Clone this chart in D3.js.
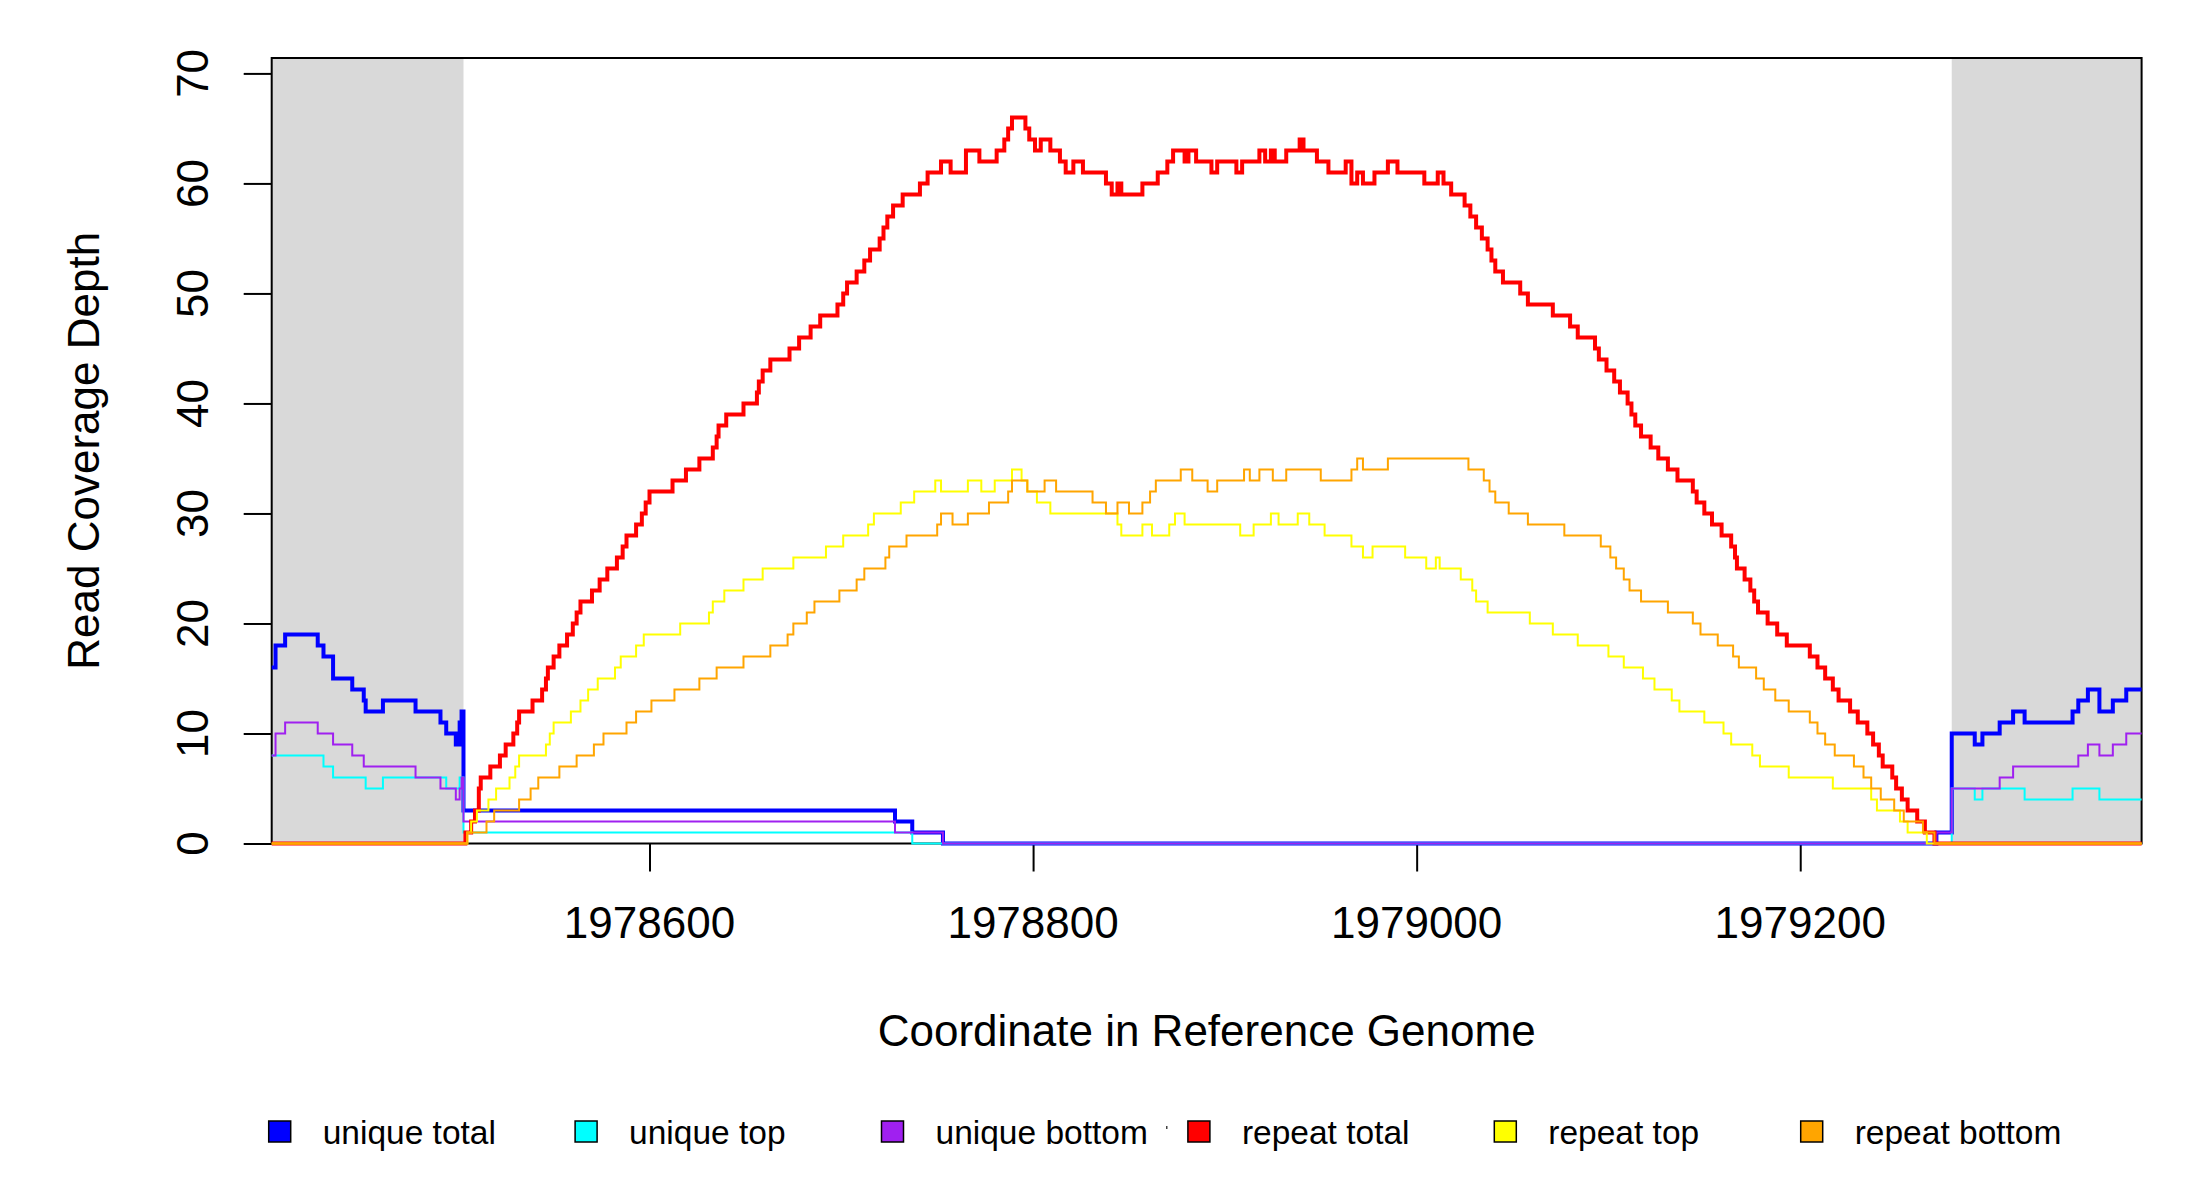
<!DOCTYPE html>
<html>
<head>
<meta charset="utf-8">
<script src="https://cdn.jsdelivr.net/npm/d3@7"></script>
<style>
  body { margin: 0; background: #fff; }
  text { font-family: "Liberation Sans", Arial, sans-serif; fill: #000; }
</style>
</head>
<body>
<svg id="chart" width="2200" height="1200"></svg>
<script>
// genome window and the two flanking (grey) regions
const xDomain = [1978403, 1979378];
const flanks = [[1978403, 1978503], [1979279, 1979378]];
const yMax = 71.4;
const xTicks = [1978600, 1978800, 1979000, 1979200];
const yTicks = [0, 10, 20, 30, 40, 50, 60, 70];

// [coordinate, depth] step points
const uniqueTotal = [[1978403,16],[1978405,18],[1978410,19],[1978427,18],[1978430,17],[1978435,15],[1978445,14],[1978451,13],[1978452,12],[1978461,13],[1978478,12],[1978491,11],[1978494,10],[1978499,9],[1978501,11],[1978502,12],[1978503,3],[1978728,2],[1978737,1],[1978753,0],[1979271,1],[1979279,10],[1979291,9],[1979295,10],[1979304,11],[1979311,12],[1979317,11],[1979342,12],[1979345,13],[1979350,14],[1979356,12],[1979363,13],[1979370,14],[1979378,14]];
const uniqueTop = [[1978403,8],[1978430,7],[1978435,6],[1978452,5],[1978461,6],[1978494,5],[1978501,6],[1978503,1],[1978737,0],[1979279,5],[1979291,4],[1979295,5],[1979317,4],[1979342,5],[1979356,4],[1979378,4]];
const uniqueBottom = [[1978403,8],[1978405,10],[1978410,11],[1978427,10],[1978435,9],[1978445,8],[1978451,7],[1978478,6],[1978491,5],[1978499,4],[1978501,5],[1978502,6],[1978503,2],[1978728,1],[1978753,0],[1979271,1],[1979279,5],[1979304,6],[1979311,7],[1979345,8],[1979350,9],[1979356,8],[1979363,9],[1979370,10],[1979378,10]];

const repeatTotal = [[1978403,0],[1978504,1],[1978507,2],[1978509,3],[1978511,5],[1978512,6],[1978517,7],[1978522,8],[1978525,9],[1978529,10],[1978531,11],[1978532,12],[1978539,13],[1978544,14],[1978546,15],[1978547,16],[1978550,17],[1978553,18],[1978557,19],[1978560,20],[1978562,21],[1978564,22],[1978570,23],[1978574,24],[1978578,25],[1978583,26],[1978586,27],[1978588,28],[1978593,29],[1978596,30],[1978598,31],[1978600,32],[1978612,33],[1978619,34],[1978626,35],[1978633,36],[1978635,37],[1978636,38],[1978640,39],[1978649,40],[1978656,41],[1978657,42],[1978659,43],[1978663,44],[1978673,45],[1978678,46],[1978684,47],[1978689,48],[1978698,49],[1978701,50],[1978703,51],[1978708,52],[1978712,53],[1978715,54],[1978720,55],[1978722,56],[1978724,57],[1978727,58],[1978732,59],[1978741,60],[1978745,61],[1978752,62],[1978757,61],[1978765,63],[1978772,62],[1978781,63],[1978785,64],[1978787,65],[1978789,66],[1978796,65],[1978798,64],[1978801,63],[1978804,64],[1978809,63],[1978814,62],[1978817,61],[1978821,62],[1978826,61],[1978838,60],[1978841,59],[1978844,60],[1978846,59],[1978857,60],[1978865,61],[1978870,62],[1978873,63],[1978879,62],[1978881,63],[1978885,62],[1978893,61],[1978896,62],[1978906,61],[1978909,62],[1978918,63],[1978921,62],[1978924,63],[1978926,62],[1978932,63],[1978939,64],[1978941,63],[1978948,62],[1978954,61],[1978963,62],[1978966,60],[1978969,61],[1978972,60],[1978978,61],[1978985,62],[1978990,61],[1979004,60],[1979011,61],[1979014,60],[1979018,59],[1979025,58],[1979028,57],[1979031,56],[1979034,55],[1979037,54],[1979039,53],[1979041,52],[1979045,51],[1979054,50],[1979058,49],[1979071,48],[1979080,47],[1979084,46],[1979093,45],[1979095,44],[1979099,43],[1979103,42],[1979106,41],[1979110,40],[1979112,39],[1979114,38],[1979117,37],[1979122,36],[1979126,35],[1979131,34],[1979136,33],[1979144,32],[1979146,31],[1979150,30],[1979154,29],[1979159,28],[1979164,27],[1979166,26],[1979167,25],[1979171,24],[1979174,23],[1979176,22],[1979178,21],[1979183,20],[1979188,19],[1979193,18],[1979205,17],[1979209,16],[1979213,15],[1979217,14],[1979220,13],[1979226,12],[1979230,11],[1979235,10],[1979238,9],[1979241,8],[1979243,7],[1979248,6],[1979250,5],[1979253,4],[1979256,3],[1979261,2],[1979265,1],[1979270,0],[1979378,0]];
const repeatTop = [[1978403,0],[1978505,1],[1978507,2],[1978510,3],[1978516,4],[1978520,5],[1978527,6],[1978530,7],[1978532,8],[1978546,9],[1978548,10],[1978550,11],[1978559,12],[1978564,13],[1978568,14],[1978573,15],[1978582,16],[1978585,17],[1978593,18],[1978597,19],[1978616,20],[1978631,21],[1978633,22],[1978639,23],[1978649,24],[1978659,25],[1978675,26],[1978692,27],[1978701,28],[1978714,29],[1978717,30],[1978731,31],[1978738,32],[1978749,33],[1978752,32],[1978766,33],[1978773,32],[1978780,33],[1978789,34],[1978794,33],[1978797,32],[1978802,31],[1978809,30],[1978844,29],[1978846,28],[1978857,29],[1978862,28],[1978871,29],[1978874,30],[1978879,29],[1978908,28],[1978915,29],[1978924,30],[1978928,29],[1978938,30],[1978944,29],[1978952,28],[1978966,27],[1978972,26],[1978977,27],[1978994,26],[1979005,25],[1979010,26],[1979012,25],[1979023,24],[1979029,23],[1979031,22],[1979037,21],[1979059,20],[1979071,19],[1979084,18],[1979100,17],[1979108,16],[1979118,15],[1979124,14],[1979133,13],[1979137,12],[1979150,11],[1979160,10],[1979164,9],[1979175,8],[1979179,7],[1979194,6],[1979217,5],[1979237,4],[1979240,3],[1979252,2],[1979256,1],[1979266,0],[1979378,0]];
const repeatBottom = [[1978403,0],[1978505,1],[1978515,2],[1978519,3],[1978532,4],[1978538,5],[1978542,6],[1978553,7],[1978562,8],[1978571,9],[1978576,10],[1978588,11],[1978593,12],[1978601,13],[1978613,14],[1978626,15],[1978635,16],[1978649,17],[1978663,18],[1978672,19],[1978675,20],[1978682,21],[1978686,22],[1978699,23],[1978708,24],[1978712,25],[1978723,26],[1978725,27],[1978734,28],[1978750,29],[1978752,30],[1978758,29],[1978766,30],[1978777,31],[1978787,32],[1978789,33],[1978797,32],[1978806,33],[1978812,32],[1978831,31],[1978838,30],[1978844,31],[1978850,30],[1978857,31],[1978861,32],[1978864,33],[1978877,34],[1978883,33],[1978891,32],[1978896,33],[1978910,34],[1978913,33],[1978918,34],[1978925,33],[1978932,34],[1978950,33],[1978966,34],[1978969,35],[1978972,34],[1978985,35],[1979027,34],[1979035,33],[1979038,32],[1979041,31],[1979048,30],[1979058,29],[1979077,28],[1979096,27],[1979101,26],[1979104,25],[1979108,24],[1979111,23],[1979117,22],[1979131,21],[1979144,20],[1979148,19],[1979157,18],[1979165,17],[1979168,16],[1979177,15],[1979181,14],[1979187,13],[1979194,12],[1979205,11],[1979209,10],[1979213,9],[1979218,8],[1979228,7],[1979233,6],[1979237,5],[1979242,4],[1979249,3],[1979254,2],[1979264,1],[1979270,0],[1979378,0]];

const seriesNames = ["unique total", "unique top", "unique bottom", "repeat total", "repeat top", "repeat bottom"];
const seriesColors = ["#0000ff", "#00ffff", "#a020f0", "#ff0000", "#ffff00", "#ffa500"];
const seriesData = [uniqueTotal, uniqueTop, uniqueBottom, repeatTotal, repeatTop, repeatBottom];
const seriesWidth = [4, 2, 2, 4, 2, 2];

const svg = d3.select('#chart');
const plot = { left: 271.7, right: 2141.6, top: 58, bottom: 843.5 };

const x = d3.scaleLinear().domain(xDomain).range([plot.left, plot.right]);
const y = d3.scaleLinear().domain([0, yMax]).range([plot.bottom, plot.top]);

// grey flanks
svg.selectAll('rect.flank')
  .data(flanks)
  .join('rect')
  .attr('class', 'flank')
  .attr('x', d => x(d[0]))
  .attr('width', d => x(d[1]) - x(d[0]))
  .attr('y', y(yMax))
  .attr('height', y(0) - y(yMax))
  .attr('fill', '#d9d9d9');

// frame
svg.append('rect')
  .attr('x', x(xDomain[0])).attr('y', y(yMax))
  .attr('width', x(xDomain[1]) - x(xDomain[0]))
  .attr('height', y(0) - y(yMax))
  .attr('fill', 'none').attr('stroke', '#000').attr('stroke-width', 2);

// axes (ticks only, labels drawn by hand so they can be rotated like R)
const gy = svg.append('g').attr('transform', `translate(${plot.left},0)`)
  .call(d3.axisLeft(y).tickValues(yTicks).tickSize(28).tickFormat(''));
const gx = svg.append('g').attr('transform', `translate(0,${plot.bottom})`)
  .call(d3.axisBottom(x).tickValues(xTicks).tickSize(28).tickFormat(''));
[gx, gy].forEach(g => {
  g.select('.domain').remove();
  g.selectAll('line').attr('stroke', '#000').attr('stroke-width', 2);
});

svg.selectAll('text.ylab')
  .data(yTicks)
  .join('text')
  .attr('class', 'ylab')
  .attr('transform', d => `translate(208,${y(d)}) rotate(-90)`)
  .attr('text-anchor', 'middle')
  .attr('font-size', 44)
  .text(d => d);

svg.selectAll('text.xlab')
  .data(xTicks)
  .join('text')
  .attr('class', 'xlab')
  .attr('x', d => x(d))
  .attr('y', 938)
  .attr('text-anchor', 'middle')
  .attr('font-size', 44)
  .text(d => d);

svg.append('text')
  .attr('x', (plot.left + plot.right) / 2).attr('y', 1046)
  .attr('text-anchor', 'middle').attr('font-size', 44)
  .text('Coordinate in Reference Genome');

svg.append('text')
  .attr('transform', `translate(99,${(plot.top + plot.bottom) / 2}) rotate(-90)`)
  .attr('text-anchor', 'middle').attr('font-size', 44)
  .text('Read Coverage Depth');

// coverage lines, R type="s"
const line = d3.line()
  .x(d => x(d[0]))
  .y(d => y(d[1]))
  .curve(d3.curveStepAfter);

seriesData.forEach((data, i) => {
  svg.append('path')
    .datum(data)
    .attr('d', line)
    .attr('fill', 'none')
    .attr('stroke', seriesColors[i])
    .attr('stroke-width', seriesWidth[i])
    .attr('stroke-linejoin', 'miter');
});

// legend
const legend = svg.append('g').attr('transform', 'translate(268.7,1121)');
const item = legend.selectAll('g')
  .data(seriesNames)
  .join('g')
  .attr('transform', (d, i) => `translate(${i * 306.4},0)`);
item.append('rect')
  .attr('width', 22).attr('height', 21)
  .attr('fill', (d, i) => seriesColors[i])
  .attr('stroke', '#000').attr('stroke-width', 1.5);
item.append('text')
  .attr('x', 54).attr('y', 23)
  .attr('font-size', 33.5)
  .text(d => d);

// stray speck next to the third legend entry
svg.append('rect').attr('x', 1166).attr('y', 1126).attr('width', 1.5).attr('height', 3).attr('fill', '#444');
</script>
</body>
</html>
